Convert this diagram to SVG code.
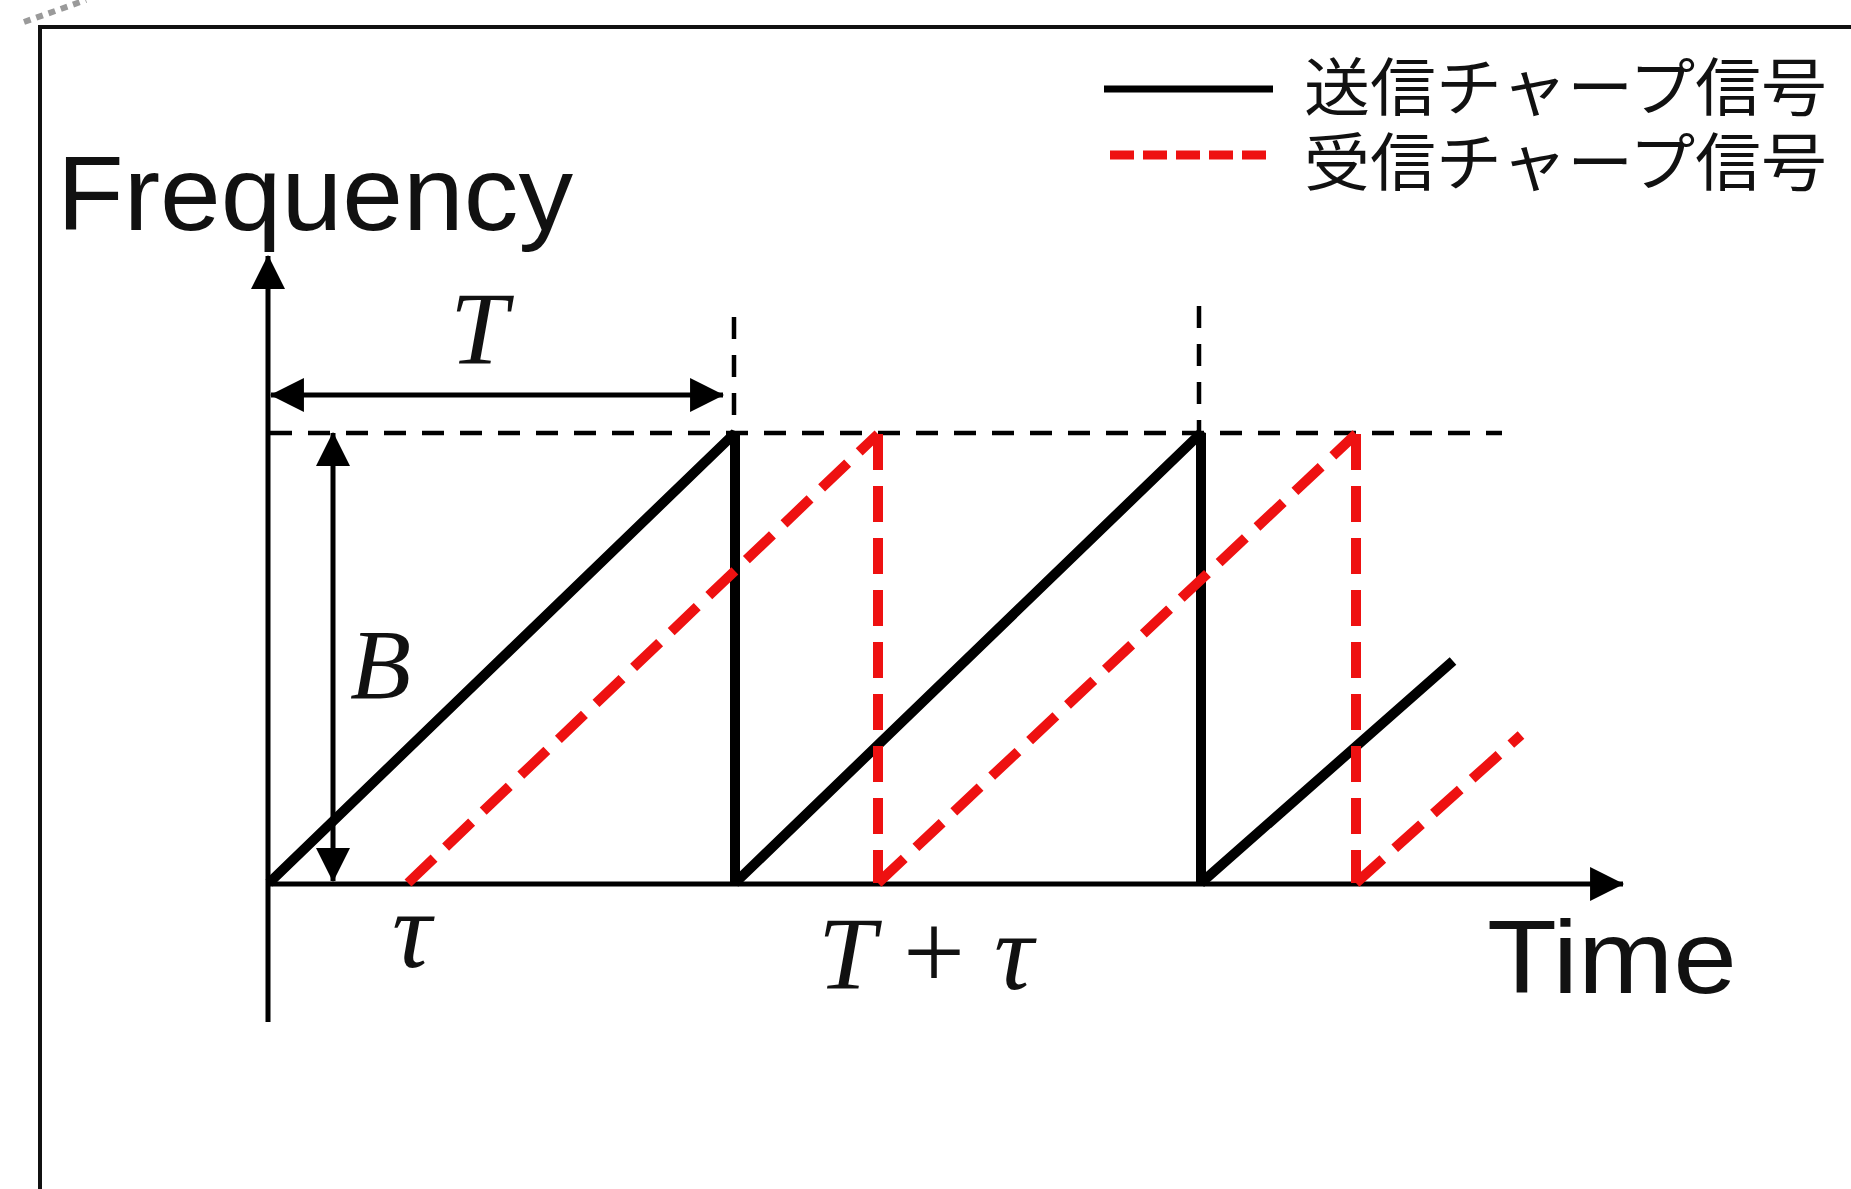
<svg xmlns="http://www.w3.org/2000/svg" width="1851" height="1189" viewBox="0 0 1851 1189">
<style>
.txt{font-family:"Liberation Sans",Arial,sans-serif;fill:#111}
.math{font-family:"Liberation Serif","Times New Roman",serif;font-style:italic;fill:#111}
.up{font-family:"Liberation Serif","Times New Roman",serif;font-style:normal;fill:#111}
.jp{font-family:"Noto Sans CJK JP","Noto Sans CJK SC",sans-serif;fill:#111}
.axis{stroke:#000;stroke-width:5;fill:none}
.guide{stroke:#000;stroke-width:4.5;stroke-dasharray:22 16;fill:none}
.tx{stroke:#000;stroke-width:10;fill:none;stroke-linejoin:bevel}
.rx{stroke:#ee1111;stroke-width:10;stroke-dasharray:36 16;fill:none}
</style>
<defs>
<marker id="arr" markerUnits="userSpaceOnUse" markerWidth="34" markerHeight="34" viewBox="0 0 32 32" refX="31" refY="16" orient="auto-start-reverse">
<path d="M0,0 L32,16 L0,32 z" fill="#000"/>
</marker>
</defs>
<rect width="1851" height="1189" fill="#fff"/>
<g id="frame">
<path d="M24,22 L86,0" stroke="#9a9a9a" stroke-width="6" stroke-dasharray="7 6" fill="none"/>
<path d="M40,1189 L40,27 L1851,27" stroke="#111" stroke-width="4" fill="none"/>
</g>
<g id="legend">
<line x1="1104" y1="89" x2="1273" y2="89" stroke="#000" stroke-width="7"/>
<text class="jp" x="1304" y="110" font-size="63" textLength="523" lengthAdjust="spacingAndGlyphs">送信チャープ信号</text>
<line x1="1110" y1="155" x2="1273" y2="155" stroke="#ee1111" stroke-width="9" stroke-dasharray="24 9"/>
<text class="jp" x="1304" y="185" font-size="63" textLength="523" lengthAdjust="spacingAndGlyphs">受信チャープ信号</text>
</g>
<g id="axis-labels">
<text class="txt" x="57" y="230" font-size="106" textLength="516" lengthAdjust="spacingAndGlyphs">Frequency</text>
<text class="txt" x="1487" y="993" font-size="104" textLength="250" lengthAdjust="spacingAndGlyphs">Time</text>
</g>
<g id="connectors">
<line class="axis" x1="268" y1="1022" x2="268" y2="256" marker-end="url(#arr)"/>
<line class="axis" x1="266" y1="884" x2="1623" y2="884" marker-end="url(#arr)"/>
<line class="axis" x1="271" y1="395" x2="723" y2="395" stroke-width="6" marker-start="url(#arr)" marker-end="url(#arr)"/>
<line class="axis" x1="333" y1="433" x2="333" y2="881" stroke-width="4" marker-start="url(#arr)" marker-end="url(#arr)"/>
<line class="guide" x1="270" y1="433" x2="1502" y2="433"/>
<line class="guide" x1="734" y1="317" x2="734" y2="433"/>
<line class="guide" x1="1199" y1="306" x2="1199" y2="433"/>
</g>
<g id="tx-chirp">
<polyline class="tx" points="269,883 735,433 735,883 1201,433 1201,883 1453,661"/>
</g>
<g id="rx-chirp">
<line class="rx" x1="408" y1="883" x2="878" y2="434"/>
<line class="rx" x1="878" y1="434" x2="878" y2="883"/>
<line class="rx" x1="878" y1="883" x2="1356" y2="434"/>
<line class="rx" x1="1356" y1="434" x2="1356" y2="883"/>
<line class="rx" x1="1356" y1="883" x2="1521" y2="735"/>
</g>
<g id="labels">
<text class="math" x="450" y="364" font-size="104">T</text>
<text class="math" x="350" y="698" font-size="100">B</text>
<text class="math" x="392" y="967" font-size="110">τ</text>
<text class="math" x="818" y="989" font-size="104">T</text>
<text class="up" x="903" y="989" font-size="110">+</text>
<text class="math" x="994" y="989" font-size="110">τ</text>
</g>
</svg>
